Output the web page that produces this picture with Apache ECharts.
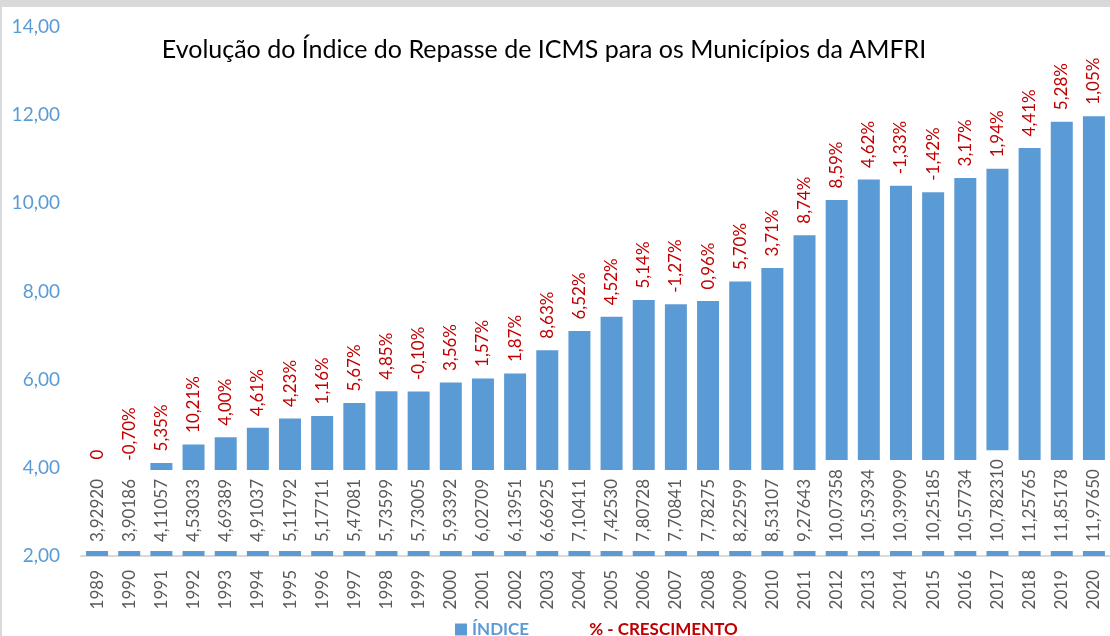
<!DOCTYPE html>
<html>
<head>
<meta charset="utf-8">
<script src="https://cdn.jsdelivr.net/npm/echarts@6/dist/echarts.min.js"></script>
<style>
  html, body { margin: 0; padding: 0; background: #fff; }
  #chart { position: absolute; left: 0; top: 0; width: 1110px; height: 636px; }
  .borda-topo { position: absolute; left: 0; top: 0; width: 1110px; height: 7px; background: #d9d9d9; }
  .borda-esq { position: absolute; left: 0; top: 0; width: 2px; height: 636px; background: #d9d9d9; }
</style>
</head>
<body>
<div id="chart"></div>
<div class="borda-topo"></div>
<div class="borda-esq"></div>
<script>
// anos (eixo x)
var anos = ['1989', '1990', '1991', '1992', '1993', '1994', '1995', '1996', '1997', '1998', '1999',
  '2000', '2001', '2002', '2003', '2004', '2005', '2006', '2007', '2008', '2009', '2010',
  '2011', '2012', '2013', '2014', '2015', '2016', '2017', '2018', '2019', '2020'];

// índice, como aparece nos rótulos
var indiceTexto = ['3,92920', '3,90186', '4,11057', '4,53033', '4,69389', '4,91037', '5,11792', '5,17711',
  '5,47081', '5,73599', '5,73005', '5,93392', '6,02709', '6,13951', '6,66925', '7,10411', '7,42530',
  '7,80728', '7,70841', '7,78275', '8,22599', '8,53107', '9,27643', '10,07358', '10,53934', '10,39909',
  '10,25185', '10,57734', '10,782310', '11,25765', '11,85178', '11,97650'];
var indice = indiceTexto.map(function (s) { return parseFloat(s.replace(',', '.')); });

// % de crescimento
var crescimento = [0, -0.70, 5.35, 10.21, 4.00, 4.61, 4.23, 1.16, 5.67, 4.85, -0.10, 3.56, 1.57, 1.87,
  8.63, 6.52, 4.52, 5.14, -1.27, 0.96, 5.70, 3.71, 8.74, 8.59, 4.62, -1.33, -1.42, 3.17, 1.94, 4.41, 5.28, 1.05];

// eixo y
var yMin = 2, yMax = 14, yPasso = 2;

var azul = '#5B9BD5';
var vermelho = '#C00000';
var fonte = 'Lato';

var chart = echarts.init(document.getElementById('chart'));
chart.setOption({
  animation: false,
  backgroundColor: '#fff',
  textStyle: { fontFamily: fonte },
  title: {
    text: 'Evolução do Índice do Repasse de ICMS para os Municípios da AMFRI',
    left: 539,
    textAlign: 'center',
    top: 32,
    textStyle: { color: '#000', fontWeight: 'normal', fontSize: 25, fontFamily: fonte }
  },
  legend: {
    left: 450,
    top: 616,
    itemGap: 43,
    itemWidth: 12,
    itemHeight: 12,
    selectedMode: false,
    textStyle: { fontSize: 17, fontWeight: 'bold', fontFamily: fonte },
    data: [
      { name: 'ÍNDICE', icon: 'rect', textStyle: { color: azul } },
      { name: '% - CRESCIMENTO', icon: 'rect', itemStyle: { color: 'rgba(0,0,0,0)' }, textStyle: { color: vermelho } }
    ]
  },
  grid: { left: 81, top: 27, width: 1040, height: 529 },
  xAxis: {
    type: 'category',
    data: anos,
    axisLine: { lineStyle: { color: '#D9D9D9', width: 2 } },
    axisTick: { show: false },
    axisLabel: { rotate: 90, interval: 0, margin: 14, color: '#595959', fontSize: 17 }
  },
  yAxis: {
    type: 'value',
    min: yMin,
    max: yMax,
    interval: yPasso,
    splitLine: { show: false },
    axisLine: { show: false },
    axisTick: { show: false },
    axisLabel: {
      margin: 21,
      color: azul,
      fontSize: 19,
      formatter: function (v) { return v.toFixed(2).replace('.', ','); }
    }
  },
  series: [
    {
      name: 'ÍNDICE',
      type: 'bar',
      data: indice,
      barWidth: 22,
      itemStyle: { color: azul },
      label: {
        show: true,
        position: 'insideBottom',
        distance: 5,
        rotate: 90,
        align: 'left',
        verticalAlign: 'middle',
        color: '#595959',
        fontSize: 17,
        backgroundColor: '#fff',
        padding: [4, 9],
        formatter: function (p) { return indiceTexto[p.dataIndex]; }
      }
    },
    {
      name: '% - CRESCIMENTO',
      type: 'line',
      data: indice,
      symbol: 'circle',
      symbolSize: 1,
      itemStyle: { color: 'rgba(0,0,0,0)' },
      lineStyle: { width: 0, opacity: 0 },
      z: 5,
      label: {
        show: true,
        position: 'top',
        distance: 11,
        rotate: 90,
        align: 'left',
        verticalAlign: 'middle',
        color: vermelho,
        fontSize: 17,
        formatter: function (p) {
          var v = crescimento[p.dataIndex];
          return v === 0 ? '0' : v.toFixed(2).replace('.', ',') + '%';
        }
      }
    }
  ]
});
</script>
</body>
</html>
